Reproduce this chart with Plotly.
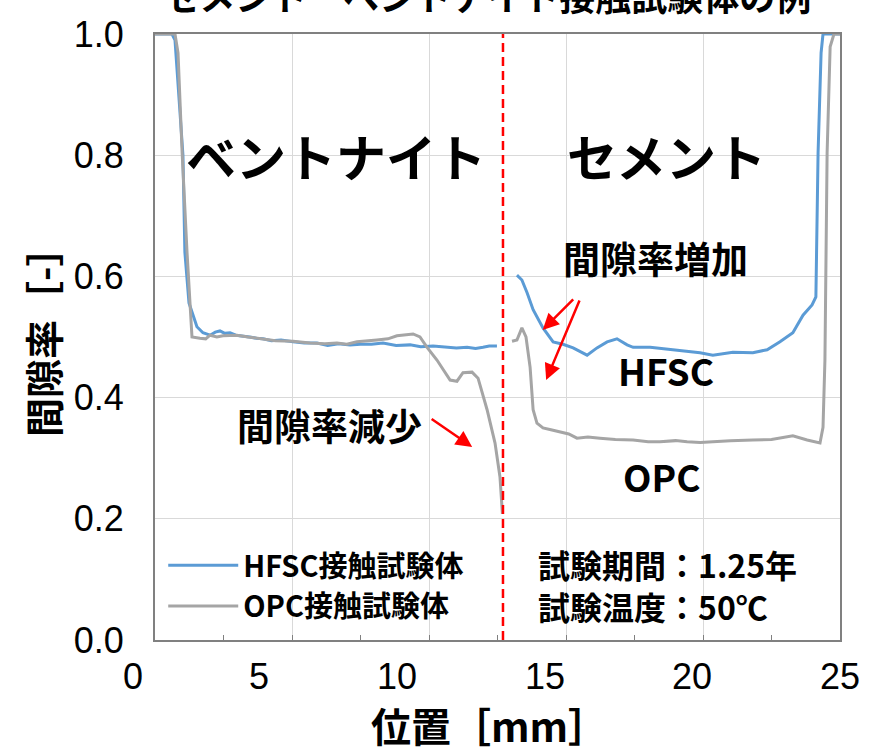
import plotly.graph_objects as go

# ---- data (position [mm], porosity [-]) ----
hfsc_left_x = [0, 0.62, 0.73, 1.02, 1.09, 1.24, 1.39, 1.53, 1.75, 2.01, 2.20, 2.37, 2.55, 2.74, 2.95, 3.21, 3.45,
               3.70, 3.94, 4.25, 4.60, 5.04, 5.45, 5.91, 6.30, 6.70, 7.12, 7.50, 7.90, 8.32, 8.80, 9.31, 9.70,
               10.15, 10.60, 11.00, 11.39, 11.70, 11.97, 12.20, 12.48]
hfsc_left_y = [1.0, 1.0, 0.99, 0.80, 0.64, 0.556, 0.536, 0.517, 0.507, 0.503, 0.508, 0.510, 0.506, 0.507, 0.503,
               0.502, 0.500, 0.498, 0.497, 0.494, 0.495, 0.492, 0.490, 0.490, 0.486, 0.489, 0.487, 0.488, 0.488,
               0.490, 0.486, 0.487, 0.484, 0.485, 0.484, 0.482, 0.483, 0.481, 0.483, 0.485, 0.485]
hfsc_right_x = [13.21, 13.39, 13.58, 13.80, 14.16, 14.53, 14.89, 15.26, 15.77, 16.13, 16.50, 16.86, 17.23, 17.45,
                18.07, 18.69, 19.27, 19.89, 20.36, 21.09, 21.82, 22.34, 22.81, 23.28, 23.65, 23.98, 24.12, 24.20,
                24.31, 24.38, 25.0]
hfsc_right_y = [0.602, 0.594, 0.573, 0.545, 0.515, 0.492, 0.488, 0.482, 0.470, 0.482, 0.492, 0.497, 0.487, 0.483,
                0.483, 0.480, 0.477, 0.474, 0.470, 0.475, 0.474, 0.479, 0.492, 0.507, 0.536, 0.553, 0.566, 0.804,
                0.969, 1.0, 1.0]

opc_left_x = [0, 0.73, 0.84, 0.99, 1.17, 1.35, 1.64, 1.85, 2.01, 2.26, 2.48, 2.99, 3.40, 3.83, 4.40, 5.04, 5.66,
              6.20, 6.64, 7.00, 7.37, 8.10, 8.50, 8.83, 9.10, 9.42, 9.67, 9.93, 10.29, 10.77, 11.02, 11.24, 11.57,
              11.79, 12.12, 12.41, 12.59, 12.68]
opc_left_y = [1.0, 1.0, 0.969, 0.804, 0.639, 0.500, 0.498, 0.497, 0.503, 0.500, 0.502, 0.503, 0.500, 0.497, 0.494,
              0.493, 0.490, 0.489, 0.490, 0.488, 0.492, 0.495, 0.497, 0.502, 0.503, 0.505, 0.500, 0.483, 0.462,
              0.429, 0.427, 0.441, 0.442, 0.432, 0.380, 0.325, 0.269, 0.208]
opc_right_x = [13.03, 13.21, 13.39, 13.54, 13.69, 13.80, 13.94, 14.16, 14.45, 14.78, 15.10, 15.40, 15.80, 16.24,
               16.80, 17.45, 18.00, 18.43, 19.00, 19.42, 19.90, 20.36, 21.00, 21.82, 22.50, 23.28, 23.80, 24.27,
               24.38, 24.45, 24.53, 24.64, 24.78, 25.0]
opc_right_y = [0.493, 0.495, 0.515, 0.500, 0.450, 0.380, 0.358, 0.350, 0.347, 0.343, 0.340, 0.333, 0.335, 0.333,
               0.331, 0.330, 0.327, 0.327, 0.329, 0.327, 0.326, 0.327, 0.329, 0.330, 0.331, 0.337, 0.330, 0.325,
               0.351, 0.462, 0.804, 0.979, 1.0, 1.0]

interface_x = 12.7
series_names = ["HFSC接触試験体", "OPC接触試験体"]
x_tick_labels = ["0", "5", "10", "15", "20", "25"]
x_tick_label_pos = [-0.032, 0.152, 0.353, 0.569, 0.784, 1.0]   # paper positions of the printed labels

JP = "Noto Sans CJK JP"
NUM = "Liberation Sans, Arial"

fig = go.Figure()
fig.add_trace(go.Scatter(x=hfsc_left_x + [None] + hfsc_right_x, y=hfsc_left_y + [None] + hfsc_right_y,
                         mode="lines", name=series_names[0], connectgaps=False,
                         line=dict(color="#5B9BD5", width=3)))
fig.add_trace(go.Scatter(x=opc_left_x + [None] + opc_right_x, y=opc_left_y + [None] + opc_right_y,
                         mode="lines", name=series_names[1], connectgaps=False,
                         line=dict(color="#A5A5A5", width=3)))

fig.add_shape(type="line", xref="x", yref="paper", x0=interface_x, x1=interface_x, y0=0, y1=1,
              line=dict(color="#FF0000", width=2.5, dash="9px,5px"))

ann = []
def txt(t, x, y, size, fam=JP, xanchor="center", angle=0):
    ann.append(dict(text=t, x=x, y=y, xref="paper", yref="paper", showarrow=False, xanchor=xanchor,
                    yanchor="middle", align="left", textangle=angle,
                    font=dict(family=fam, size=size, color="black")))

txt("<b>セメント－ベントナイト接触試験体の例</b>", 0.486, 1.064, 36)
txt("<b>ベントナイト</b>", 0.264, 0.800, 50)
txt("<b>セメント</b>", 0.746, 0.800, 50)
txt("<b>間隙率増加</b>", 0.730, 0.630, 37)
txt("<b>HFSC</b>", 0.746, 0.446, 37)
txt("<b>OPC</b>", 0.740, 0.271, 37)
txt("<b>間隙率減少</b>", 0.255, 0.355, 37)
txt("<b>試験期間：1.25年</b><br><b>試験温度：50℃</b>", 0.556, 0.091, 32, JP, "left")
txt("<b>間隙率［-］</b>", -0.166, 0.507, 39, JP, "center", -90)
txt("<b>位置［mm］</b>", 0.489, -0.140, 40)
for lab, pos in zip(x_tick_labels, x_tick_label_pos):
    txt(lab, pos, -0.061, 36, NUM)

for hx, hy, axp, ayp in [(0.463, 0.3185, -42, -29), (0.566, 0.5116, 32, -32), (0.571, 0.429, 34, -81)]:
    ann.append(dict(x=hx, y=hy, xref="paper", yref="paper", ax=axp, ay=ayp, text="", showarrow=True,
                    arrowhead=2, arrowsize=1.3, arrowwidth=2.5, arrowcolor="#FF0000", standoff=0))

fig.update_layout(
    width=885, height=748,
    margin=dict(l=155, r=45, t=34, b=108),
    paper_bgcolor="white", plot_bgcolor="white",
    annotations=ann,
    showlegend=True,
    legend=dict(x=0.012, y=0.165, xanchor="left", yanchor="top", bgcolor="rgba(0,0,0,0)",
                font=dict(family=JP, size=29, color="black", weight="bold"), itemwidth=70, tracegroupgap=0),
)
fig.update_xaxes(range=[0, 25], dtick=5, showgrid=True, gridcolor="#D9D9D9", gridwidth=1,
                 showline=True, linecolor="#808080", linewidth=2, mirror=True,
                 ticks="inside", ticklen=5, tickcolor="#808080", showticklabels=False, zeroline=False,
                 minor=dict(dtick=2.5, ticks="inside", ticklen=5, tickcolor="#808080", showgrid=False))
fig.update_yaxes(range=[0, 1], dtick=0.2, tickformat=".1f", showgrid=True, gridcolor="#D9D9D9", gridwidth=1,
                 showline=True, linecolor="#808080", linewidth=2, mirror=True, ticks="", zeroline=False,
                 ticklabelstandoff=22, tickfont=dict(family=NUM, size=36, color="black"))

fig.write_html("out.html")
